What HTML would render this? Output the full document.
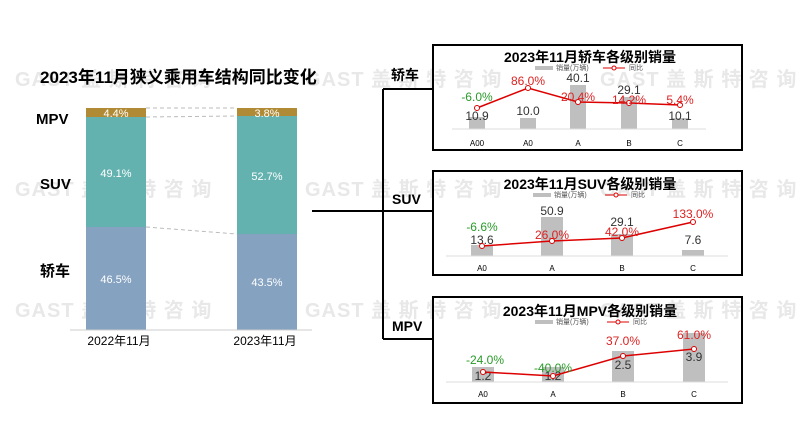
<!DOCTYPE html>
<html><head><meta charset="utf-8"><style>
body{margin:0;background:#fff;}
svg{display:block;font-family:"Liberation Sans","Noto Sans CJK SC",sans-serif;}
.wm{fill:#e8e8e8;font-size:20px;font-weight:bold;letter-spacing:1px}
.b{font-weight:bold}
</style></head><body>
<svg width="800" height="446" viewBox="0 0 800 446">
<g class="wm">
<text x="15" y="86">GAST 盖 斯 特 咨 询</text><text x="305" y="86">GAST 盖 斯 特 咨 询</text><text x="600" y="86">GAST 盖 斯 特 咨 询</text>
<text x="15" y="196">GAST 盖 斯 特 咨 询</text><text x="305" y="196">GAST 盖 斯 特 咨 询</text><text x="600" y="196">GAST 盖 斯 特 咨 询</text>
<text x="15" y="317">GAST 盖 斯 特 咨 询</text><text x="305" y="317">GAST 盖 斯 特 咨 询</text><text x="600" y="317">GAST 盖 斯 特 咨 询</text>
</g>
<text x="40" y="83" class="b" font-size="17">2023年11月狭义乘用车结构同比变化</text>
<text x="36" y="124" class="b" font-size="15">MPV</text>
<text x="40" y="189" class="b" font-size="15">SUV</text>
<text x="40" y="276" class="b" font-size="15">轿车</text>
<rect x="86" y="108" width="60" height="9" fill="#b08a35"/>
<rect x="86" y="117" width="60" height="110" fill="#63b2b0"/>
<rect x="86" y="227" width="60" height="103" fill="#85a2c1"/>
<rect x="237" y="108" width="60" height="8" fill="#b08a35"/>
<rect x="237" y="116" width="60" height="118" fill="#63b2b0"/>
<rect x="237" y="234" width="60" height="96" fill="#85a2c1"/>
<g stroke="#bbb" stroke-dasharray="4,3" stroke-width="1">
<line x1="146" y1="108" x2="237" y2="108"/><line x1="146" y1="117" x2="237" y2="116"/><line x1="146" y1="227" x2="237" y2="234"/></g>
<line x1="70" y1="330" x2="312" y2="330" stroke="#ccc"/>
<g fill="#fff" font-size="11" text-anchor="middle">
<text x="116" y="117">4.4%</text><text x="267" y="117">3.8%</text>
<text x="116" y="177">49.1%</text><text x="267" y="180">52.7%</text>
<text x="116" y="283">46.5%</text><text x="267" y="286">43.5%</text></g>
<g font-size="12" text-anchor="middle"><text x="119" y="345">2022年11月</text><text x="265" y="345">2023年11月</text></g>
<g stroke="#000" stroke-width="2" fill="none">
<line x1="312" y1="211" x2="383" y2="211"/><line x1="383" y1="89" x2="383" y2="339"/>
<line x1="383" y1="89" x2="433" y2="89"/><line x1="383" y1="211" x2="433" y2="211"/><line x1="383" y1="339" x2="433" y2="339"/>
<rect x="433" y="45" width="309" height="105"/><rect x="433" y="171" width="309" height="104"/><rect x="433" y="297" width="309" height="106"/>
</g>
<g class="b" font-size="14"><text x="391" y="80">轿车</text><text x="392" y="204">SUV</text><text x="392" y="331">MPV</text></g>
<g class="b" font-size="14" text-anchor="middle"><text x="590" y="62">2023年11月轿车各级别销量</text><text x="590" y="189">2023年11月SUV各级别销量</text><text x="590" y="316">2023年11月MPV各级别销量</text></g>
<g font-size="7" fill="#555">
<rect x="535" y="66" width="18" height="4" fill="#bfbfbf"/><text x="556" y="70">销量(万辆)</text><line x1="603" y1="68" x2="625" y2="68" stroke="#d00"/><circle cx="614" cy="68" r="2" fill="#fff" stroke="#d00"/><text x="629" y="70">同比</text>
<rect x="533" y="193" width="18" height="4" fill="#bfbfbf"/><text x="554" y="197">销量(万辆)</text><line x1="605" y1="195" x2="627" y2="195" stroke="#d00"/><circle cx="616" cy="195" r="2" fill="#fff" stroke="#d00"/><text x="631" y="197">同比</text>
<rect x="535" y="320" width="18" height="4" fill="#bfbfbf"/><text x="556" y="324">销量(万辆)</text><line x1="607" y1="322" x2="629" y2="322" stroke="#d00"/><circle cx="618" cy="322" r="2" fill="#fff" stroke="#d00"/><text x="633" y="324">同比</text>
</g>
<g fill="#bfbfbf"><rect x="469" y="117" width="16" height="12"/><rect x="520" y="118" width="16" height="11"/><rect x="570" y="85" width="16" height="44"/><rect x="621" y="97" width="16" height="32"/><rect x="672" y="118" width="16" height="11"/></g>
<line x1="452" y1="129" x2="706" y2="129" stroke="#ddd"/>
<g font-size="8" text-anchor="middle"><text x="477" y="146">A00</text><text x="528" y="146">A0</text><text x="578" y="146">A</text><text x="629" y="146">B</text><text x="680" y="146">C</text></g>
<g font-size="12" text-anchor="middle" fill="#333"><text x="477" y="120">10.9</text><text x="528" y="115">10.0</text><text x="578" y="82">40.1</text><text x="629" y="94">29.1</text><text x="680" y="120">10.1</text></g>
<polyline points="477,108 528,88 578,102 629,103 680,105" fill="none" stroke="#d00" stroke-width="1.5"/>
<g fill="#fff" stroke="#d00"><circle cx="477" cy="108" r="2.5"/><circle cx="528" cy="88" r="2.5"/><circle cx="578" cy="102" r="2.5"/><circle cx="629" cy="103" r="2.5"/><circle cx="680" cy="105" r="2.5"/></g>
<g font-size="12" text-anchor="middle" fill="#d22"><text x="477" y="101" fill="#2a9a2a">-6.0%</text><text x="528" y="85">86.0%</text><text x="578" y="101">20.4%</text><text x="629" y="104">14.2%</text><text x="680" y="104">5.4%</text></g>
<g fill="#bfbfbf"><rect x="471" y="245" width="22" height="11"/><rect x="541" y="217" width="22" height="39"/><rect x="611" y="234" width="22" height="22"/><rect x="682" y="250" width="22" height="6"/></g>
<line x1="446" y1="256" x2="728" y2="256" stroke="#ddd"/>
<g font-size="8" text-anchor="middle"><text x="482" y="271">A0</text><text x="552" y="271">A</text><text x="622" y="271">B</text><text x="693" y="271">C</text></g>
<g font-size="12" text-anchor="middle" fill="#333"><text x="482" y="244">13.6</text><text x="552" y="215">50.9</text><text x="622" y="226">29.1</text><text x="693" y="244">7.6</text></g>
<polyline points="482,246 552,241 622,238 693,222" fill="none" stroke="#d00" stroke-width="1.5"/>
<g fill="#fff" stroke="#d00"><circle cx="482" cy="246" r="2.5"/><circle cx="552" cy="241" r="2.5"/><circle cx="622" cy="238" r="2.5"/><circle cx="693" cy="222" r="2.5"/></g>
<g font-size="12" text-anchor="middle" fill="#d22"><text x="482" y="231" fill="#2a9a2a">-6.6%</text><text x="552" y="239">26.0%</text><text x="622" y="236">42.0%</text><text x="693" y="218">133.0%</text></g>
<g fill="#bfbfbf"><rect x="472" y="367" width="22" height="15"/><rect x="542" y="367" width="22" height="15"/><rect x="612" y="351" width="22" height="31"/><rect x="683" y="333" width="22" height="49"/></g>
<line x1="446" y1="382" x2="728" y2="382" stroke="#ddd"/>
<g font-size="8" text-anchor="middle"><text x="483" y="397">A0</text><text x="553" y="397">A</text><text x="623" y="397">B</text><text x="694" y="397">C</text></g>
<g font-size="12" text-anchor="middle" fill="#333"><text x="483" y="380">1.2</text><text x="553" y="380">1.2</text><text x="623" y="369">2.5</text><text x="694" y="361">3.9</text></g>
<polyline points="483,372 553,376 623,356 694,349" fill="none" stroke="#d00" stroke-width="1.5"/>
<g fill="#fff" stroke="#d00"><circle cx="483" cy="372" r="2.5"/><circle cx="553" cy="376" r="2.5"/><circle cx="623" cy="356" r="2.5"/><circle cx="694" cy="349" r="2.5"/></g>
<g font-size="12" text-anchor="middle" fill="#d22"><text x="485" y="364" fill="#2a9a2a">-24.0%</text><text x="553" y="372" fill="#2a9a2a">-40.0%</text><text x="623" y="345">37.0%</text><text x="694" y="339">61.0%</text></g>
</svg>
</body></html>
